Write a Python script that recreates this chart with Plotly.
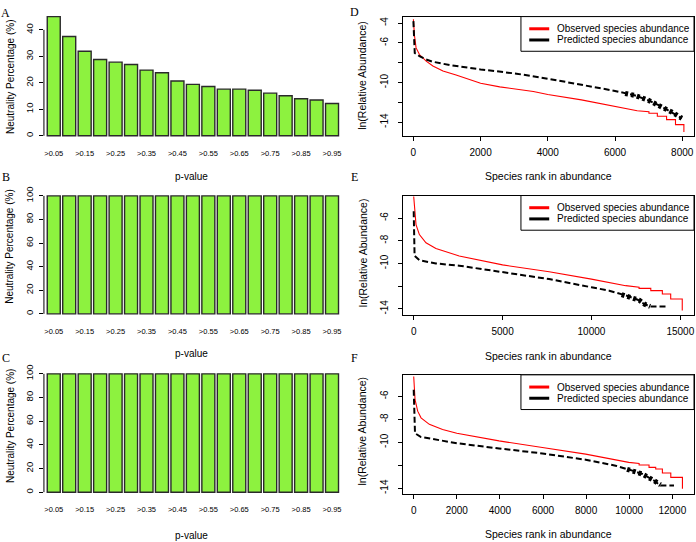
import plotly.graph_objects as go

W, H = 696, 542

# ---------------- data ----------------
p_labels = [">0.05", ">0.10", ">0.15", ">0.20", ">0.25", ">0.30", ">0.35", ">0.40", ">0.45", ">0.50",
            ">0.55", ">0.60", ">0.65", ">0.70", ">0.75", ">0.80", ">0.85", ">0.90", ">0.95"]
neutral_A = [45.0, 37.5, 31.9, 28.8, 27.8, 26.9, 24.8, 23.8, 20.7, 19.4,
             18.6, 17.6, 17.6, 17.2, 16.1, 15.1, 14.0, 13.5, 12.2]
neutral_B = [100, 100, 100, 100, 100, 100, 100, 100, 100, 100,
             100, 100, 100, 100, 100, 100, 100, 100, 100]
neutral_C = [100, 100, 100, 100, 100, 100, 100, 100, 100, 100,
             100, 100, 100, 100, 100, 100, 100, 100, 100]

legend_names = ["Observed species abundance", "Predicted species abundance"]

# Panel D
D_obs_rank = [0, 30, 80, 180, 380, 580, 880, 1270, 2000, 2570, 3570, 4000, 5000, 6000, 6660,
              7010, 7010, 7260, 7260, 7535, 7535, 7800, 7800, 8050, 8050]
D_obs_val = [-3.6, -5.2, -6.5, -7.17, -7.83, -8.33, -8.83, -9.23, -10.07, -10.43, -10.9, -11.2, -11.75, -12.4, -12.84,
             -12.95, -13.1, -13.1, -13.4, -13.4, -13.74, -13.74, -14.24, -14.24, -15.0]
D_pred_rank = [0, 40, 180, 380, 580, 1080, 2000, 3070, 4070, 5000, 6000, 6600, 7000, 7400, 7700, 7990]
D_pred_val = [-3.8, -7.0, -7.33, -7.67, -7.9, -8.23, -8.67, -9.1, -9.65, -10.2, -10.84, -11.3, -11.8, -12.45, -13.0, -13.6]
D_hatch_rank = [6300, 6600, 7000, 7400, 7700, 7990]
D_hatch_val = [-11.1, -11.3, -11.8, -12.45, -13.0, -13.6]

# Panel E
E_obs_rank = [0, 130, 320, 690, 1250, 2560, 5000, 7620, 10000, 11930, 12680, 12680, 13340, 13340,
              13990, 13990, 14460, 14460, 15110, 15110]
E_obs_val = [-4.1, -6.58, -7.46, -8.18, -8.68, -9.34, -10.13, -10.74, -11.38, -11.96, -12.1, -12.2, -12.2, -12.4,
             -12.4, -12.69, -12.69, -13.13, -13.13, -14.14]
E_pred_rank = [0, 50, 320, 1250, 2560, 5000, 7620, 10000, 11000, 12000, 12600, 13000, 13300, 14300]
E_pred_val = [-5.4, -9.34, -9.72, -10.0, -10.2, -10.8, -11.38, -12.1, -12.4, -12.85, -13.2, -13.6, -13.79, -13.79]
E_hatch_rank = [11700, 12300, 12700, 13000, 13300]
E_hatch_val = [-12.75, -13.0, -13.25, -13.6, -13.79]

# Panel F
F_obs_rank = [0, 62, 185, 340, 725, 1340, 2000, 3960, 5970, 7980, 9980, 10460, 10460, 10920, 10920,
              11230, 11230, 11540, 11540, 11930, 11930, 12470, 12470]
F_obs_val = [-4.27, -6.29, -7.29, -7.87, -8.44, -8.88, -9.22, -9.88, -10.46, -11.03, -11.75, -11.85, -11.98, -11.98, -12.18,
             -12.18, -12.33, -12.33, -12.67, -12.67, -13.05, -13.05, -14.05]
F_pred_rank = [0, 60, 340, 1340, 2000, 3960, 5970, 7980, 9370, 10150, 10610, 11150, 11450, 12080]
F_pred_val = [-5.42, -9.22, -9.54, -9.88, -10.08, -10.54, -10.97, -11.52, -12.04, -12.47, -12.76, -13.33, -13.77, -13.77]
F_hatch_rank = [9900, 10600, 11150, 11450]
F_hatch_val = [-12.35, -12.76, -13.33, -13.7]

# ---------------- style ----------------
SANS = "Liberation Sans, Arial, sans-serif"
SERIF = "Liberation Serif, Times New Roman, serif"
BAR_FILL = "#8DF23F"
BAR_EDGE = "#2a2a2a"
RED = "#FF0000"


def ydom(top, bottom):
    return [1 - bottom / H, 1 - top / H]


def xdom(left, right):
    return [left / W, right / W]


fig = go.Figure()

# ---- bar panels ----
bar_sets = [(neutral_A, "x", "y"), (neutral_B, "x2", "y2"), (neutral_C, "x3", "y3")]
for vals, xa, ya in bar_sets:
    fig.add_trace(go.Bar(x=p_labels, y=vals, xaxis=xa, yaxis=ya,
                         marker=dict(color=BAR_FILL, line=dict(color=BAR_EDGE, width=1.4)),
                         showlegend=False, hoverinfo="x+y"))

# ---- rank-abundance panels ----
rank_sets = [
    (D_obs_rank, D_obs_val, D_pred_rank, D_pred_val, D_hatch_rank, D_hatch_val, "x4", "y4"),
    (E_obs_rank, E_obs_val, E_pred_rank, E_pred_val, E_hatch_rank, E_hatch_val, "x5", "y5"),
    (F_obs_rank, F_obs_val, F_pred_rank, F_pred_val, F_hatch_rank, F_hatch_val, "x6", "y6"),
]
for orank, oval, prank, pval, hrank, hval, xa, ya in rank_sets:
    fig.add_trace(go.Scatter(x=orank, y=oval, xaxis=xa, yaxis=ya, mode="lines",
                             line=dict(color=RED, width=1.1),
                             name=legend_names[0], showlegend=False))
    fig.add_trace(go.Scatter(x=prank, y=pval, xaxis=xa, yaxis=ya, mode="lines",
                             line=dict(color="black", width=2, dash="6px,3px"),
                             name=legend_names[1], showlegend=False))
    fig.add_trace(go.Scatter(x=hrank, y=hval, xaxis=xa, yaxis=ya, mode="lines",
                             line=dict(color="black", width=5, dash="3px,3px"),
                             name=legend_names[1], showlegend=False, hoverinfo="skip"))

tickfont_small = dict(family=SANS, size=7.5, color="black")
tickfont = dict(family=SANS, size=9.5, color="black")
tickfont_r = dict(family=SANS, size=10, color="black")

layout = dict(
    width=W, height=H,
    margin=dict(l=0, r=0, t=0, b=0),
    paper_bgcolor="white", plot_bgcolor="white",
    bargap=0.16,
    showlegend=False,
    font=dict(family=SANS, color="black"),
)

# bar panel axes
bar_geo = [("", (6.9, 136.8), [-1.8, 46.8], [0, 10, 20, 30, 40]),
           ("2", (187.9, 316.5), [-4, 104], [0, 20, 40, 60, 80, 100]),
           ("3", (367.5, 496.5), [-4, 104], [0, 20, 40, 60, 80, 100])]
for sfx, (top, bot), yr, yt in bar_geo:
    layout["xaxis" + sfx] = dict(domain=xdom(44, 350), anchor="y" + sfx, type="category",
                                 range=[-0.635, 19.13], showline=False, showgrid=False, zeroline=False,
                                 tickmode="array", tickvals=p_labels[::2], ticktext=p_labels[::2],
                                 ticks="outside", ticklen=5, tickcolor="rgba(0,0,0,0)",
                                 tickfont=tickfont_small, tickangle=0)
    layout["yaxis" + sfx] = dict(domain=ydom(top, bot), anchor="x" + sfx, range=yr,
                                 showline=False, showgrid=False, zeroline=False,
                                 tickmode="array", tickvals=yt, ticks="outside", ticklen=4,
                                 tickwidth=1, tickcolor="black", tickangle=-90, tickfont=tickfont,
                                 ticklabelstandoff=2)

# rank panel axes
rank_geo = [("4", (11.7, 132.7), [-318, 8351], [0, 2000, 4000, 6000, 8000], [-15.44, -3.34],
             [-14, -12, -10, -8, -6, -4], ["-14", "", "-10", "", "-6", "-4"]),
            ("5", (192.3, 313.3), [-618, 15771], [0, 5000, 10000, 15000], [-14.58, -4.02],
             [-14, -12, -10, -8, -6], ["-14", "", "-10", "-8", "-6"]),
            ("6", (373.3, 493.3), [-510, 13007], [0, 2000, 4000, 6000, 8000, 10000, 12000], [-14.48, -4.13],
             [-14, -12, -10, -8, -6], ["-14", "", "-10", "-8", "-6"])]
for sfx, (top, bot), xr, xt, yr, yt, ytt in rank_geo:
    layout["xaxis" + sfx] = dict(domain=xdom(403.3, 695), anchor="y" + sfx, range=xr,
                                 showline=True, mirror=True, linecolor="black", linewidth=1,
                                 showgrid=False, zeroline=False,
                                 tickmode="array", tickvals=xt, ticktext=[str(v) for v in xt],
                                 ticks="outside", ticklen=4, tickcolor="black", tickfont=tickfont_r,
                                 ticklabelstandoff=3)
    layout["yaxis" + sfx] = dict(domain=ydom(top, bot), anchor="x" + sfx, range=yr,
                                 showline=True, mirror=True, linecolor="black", linewidth=1,
                                 showgrid=False, zeroline=False,
                                 tickmode="array", tickvals=yt, ticktext=ytt,
                                 ticks="outside", ticklen=4, tickcolor="black", tickangle=-90,
                                 tickfont=tickfont_r, ticklabelstandoff=6)

fig.update_layout(**layout)

# y-axis lines spanning the tick range only (R style) for bar panels
for ya, xa, ymax in [("y", "x", 40), ("y2", "x2", 100), ("y3", "x3", 100)]:
    fig.add_shape(type="line", xref=xa + " domain", yref=ya, x0=0, x1=0, y0=0, y1=ymax,
                  line=dict(color="black", width=1))

ann = []


def text(x, y, s, size=10, angle=0, family=SANS, xanchor="center"):
    ann.append(dict(x=x / W, y=1 - y / H, xref="paper", yref="paper", text=s, showarrow=False,
                    textangle=angle, font=dict(family=family, size=size, color="black"),
                    xanchor=xanchor, yanchor="middle"))


# R-style boxed legends in the top-right corner of each rank panel
for top in (11.7, 192.3, 373.3):
    fig.add_shape(type="rect", xref="paper", yref="paper",
                  x0=521.7 / W, x1=695 / W, y0=1 - (top + 35) / H, y1=1 - top / H,
                  line=dict(color="black", width=1), fillcolor="white", layer="above")
    for k, (col, nm) in enumerate(zip([RED, "black"], legend_names)):
        ry = top + 12.3 + 11.3 * k
        fig.add_shape(type="line", xref="paper", yref="paper",
                      x0=530 / W, x1=550 / W, y0=1 - ry / H, y1=1 - ry / H,
                      line=dict(color=col, width=3), layer="above")
        text(556, ry, nm, size=10, xanchor="left")

# axis titles
text(10, 71.7, "Neutrality Percentage (%)", angle=-90)
text(10, 243, "Neutrality Percentage (%)", angle=-90)
text(10, 424, "Neutrality Percentage (%)", angle=-90)
text(192, 173, "p-value")
text(192, 352, "p-value")
text(192, 535, "p-value")
text(363, 71, "ln(Relative Abundance)", size=10.5, angle=-90)
text(363, 250, "ln(Relative Abundance)", size=10.5, angle=-90)
text(363, 430, "ln(Relative Abundance)", size=10.5, angle=-90)
text(549, 173, "Species rank in abundance", size=10.5)
text(549, 354, "Species rank in abundance", size=10.5)
text(549, 534, "Species rank in abundance", size=10.5)
# panel letters
for lx, ly, s in [(6, 8, "A"), (6, 174, "B"), (6, 356, "C"), (355, 7, "D"), (355, 174, "E"), (355, 356, "F")]:
    text(lx, ly, s, size=12, family=SERIF)

fig.update_layout(annotations=ann)

fig.write_html("out.html", config={"displayModeBar": False},
               post_script="document.body.style.margin='0px';document.body.style.padding='0px';")
